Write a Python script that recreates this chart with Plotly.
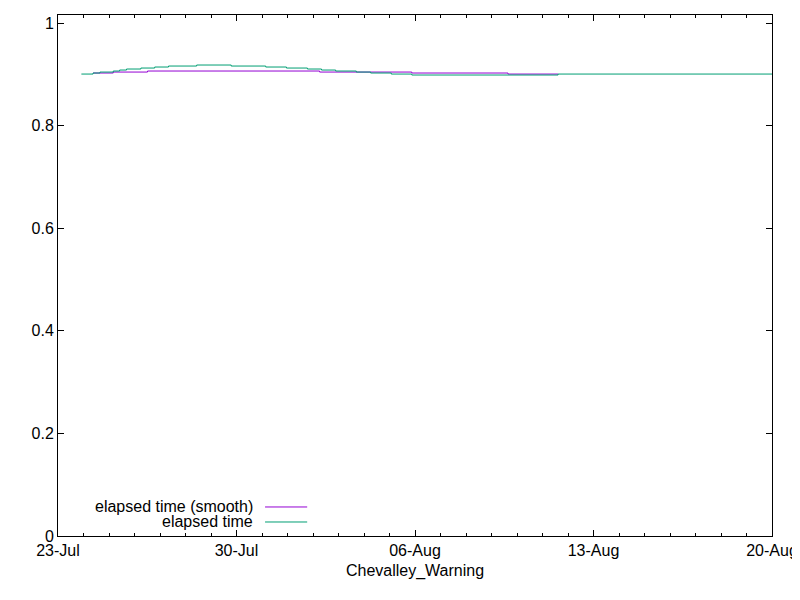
import plotly.graph_objects as go

# step data (elapsed time, raw and smoothed)
raw_dates = ["2020-07-23 22:00", "2020-07-24 09:00", "2020-07-24 15:30", "2020-07-25 04:00",
             "2020-07-25 10:00", "2020-07-25 16:30", "2020-07-26 06:00", "2020-07-26 19:00",
             "2020-07-27 08:00", "2020-07-28 10:30", "2020-07-29 19:00", "2020-07-31 03:30",
             "2020-07-31 23:00", "2020-08-01 18:45", "2020-08-02 08:00", "2020-08-02 21:20",
             "2020-08-03 16:45", "2020-08-04 06:15", "2020-08-05 01:40", "2020-08-05 21:00",
             "2020-08-11 14:40", "2020-08-20 00:00"]
raw_vals = [0.9005, 0.9025, 0.9044, 0.9064, 0.9083, 0.9103, 0.9122, 0.9142, 0.9161, 0.9181,
            0.9161, 0.9142, 0.9122, 0.9103, 0.9083, 0.9064, 0.9044, 0.9025, 0.9005, 0.8986,
            0.9005, 0.9005]

smooth_dates = ["2020-07-24 09:00", "2020-07-25 04:00", "2020-07-26 12:15", "2020-08-02 06:15",
                "2020-08-05 21:00", "2020-08-09 15:30", "2020-08-11 14:40"]
smooth_vals = [0.9025, 0.9044, 0.9064, 0.9044, 0.9025, 0.9005, 0.9005]

y_ticks = [0, 0.2, 0.4, 0.6, 0.8, 1]
y_labels = ["0", "0.2", "0.4", "0.6", "0.8", "1"]

purple = "#9400d3"
green = "#009e73"

fig = go.Figure()
fig.add_trace(go.Scatter(x=smooth_dates, y=smooth_vals, mode="lines",
                         line=dict(color=purple, width=1, shape="hv"),
                         name="elapsed time (smooth)", showlegend=False))
fig.add_trace(go.Scatter(x=raw_dates, y=raw_vals, mode="lines",
                         line=dict(color=green, width=1, shape="hv"),
                         name="elapsed time", showlegend=False))

# gnuplot style key: text right aligned, sample line on the right
key = [("elapsed time (smooth)", purple, 0.0557), ("elapsed time", green, 0.0269)]
for txt, col, yy in key:
    fig.add_annotation(text=txt, xref="paper", yref="paper", x=0.276, y=yy,
                       xanchor="right", yanchor="middle", showarrow=False,
                       font=dict(size=16, color="black"))
    fig.add_shape(type="line", xref="paper", yref="paper", x0=0.290, x1=0.349,
                  y0=yy, y1=yy, line=dict(color=col, width=1))

# page body has an 8px margin, so the figure is shrunk and shifted to compensate
fig.update_layout(
    width=792, height=592,
    margin=dict(l=50, r=28, t=7, b=64),
    paper_bgcolor="white", plot_bgcolor="white",
    font=dict(family="Liberation Sans, Arial, sans-serif", size=16, color="black"),
)
fig.update_xaxes(
    type="date", range=["2020-07-23", "2020-08-20"], automargin=False,
    tick0="2020-07-23", dtick=7 * 86400000, tickformat="%d-%b",
    ticks="inside", ticklen=6, tickcolor="black",
    minor=dict(ticks="inside", ticklen=3, dtick=86400000, tickcolor="black"),
    showline=True, linecolor="black", linewidth=1, mirror="ticks",
    showgrid=False, zeroline=False,
    title=dict(text="Chevalley_Warning", font=dict(size=16), standoff=6),
)
fig.update_yaxes(
    range=[0, 1.0156], tickvals=y_ticks, ticktext=y_labels, automargin=False,
    ticks="inside", ticklen=6, tickcolor="black",
    showline=True, linecolor="black", linewidth=1, mirror="ticks",
    showgrid=False, zeroline=False,
)

fig.write_html("out.html")
